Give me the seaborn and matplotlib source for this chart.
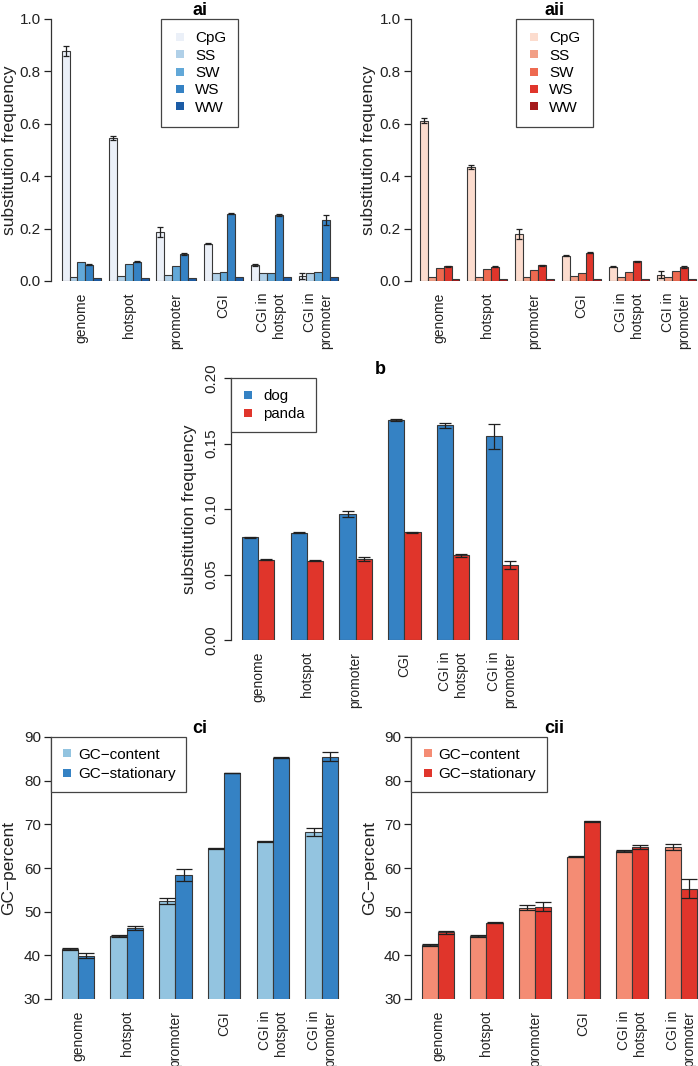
import pandas as pd
import matplotlib
matplotlib.use('Agg')
import matplotlib.pyplot as plt
from matplotlib.lines import Line2D
import seaborn as sns

regions = ['genome', 'hotspot', 'promoter', 'CGI', 'CGI in\nhotspot', 'CGI in\npromoter']
sub_types = ['CpG', 'SS', 'SW', 'WS', 'WW']
species = ['dog', 'panda']
gc_kinds = ['GC\u2212content', 'GC\u2212stationary']

# ai - dog substitution frequency
ai_cpg = [0.878, 0.546, 0.186, 0.143, 0.061, 0.020]
ai_ss = [0.016, 0.018, 0.022, 0.032, 0.031, 0.029]
ai_sw = [0.071, 0.064, 0.057, 0.033, 0.031, 0.034]
ai_ws = [0.062, 0.074, 0.103, 0.256, 0.252, 0.233]
ai_ww = [0.011, 0.011, 0.013, 0.014, 0.014, 0.014]
ai_cpg_err = [0.020, 0.008, 0.019, 0.001, 0.002, 0.011]
ai_ws_err = [0.001, 0.001, 0.003, 0.002, 0.002, 0.018]

# aii - panda substitution frequency
aii_cpg = [0.612, 0.436, 0.178, 0.097, 0.055, 0.024]
aii_ss = [0.014, 0.014, 0.014, 0.019, 0.015, 0.015]
aii_sw = [0.048, 0.045, 0.043, 0.032, 0.034, 0.040]
aii_ws = [0.056, 0.055, 0.060, 0.108, 0.075, 0.053]
aii_ww = [0.009, 0.009, 0.009, 0.009, 0.009, 0.009]
aii_cpg_err = [0.010, 0.008, 0.019, 0.001, 0.002, 0.013]
aii_ws_err = [0.001, 0.001, 0.002, 0.001, 0.002, 0.005]

# b - overall substitution frequency
dog_freq = [0.0785, 0.0818, 0.0961, 0.1679, 0.1638, 0.1554]
panda_freq = [0.0612, 0.0604, 0.0617, 0.0823, 0.0648, 0.0573]
dog_err = [0.0005, 0.0004, 0.0025, 0.0005, 0.0018, 0.0095]
panda_err = [0.0003, 0.0003, 0.0015, 0.0004, 0.0012, 0.0030]

# ci / cii - GC percent
ci_content = [41.5, 44.4, 52.5, 64.5, 66.1, 68.3]
ci_stationary = [39.9, 46.3, 58.4, 81.8, 85.3, 85.5]
ci_content_err = [0.25, 0.15, 0.7, 0.05, 0.1, 0.9]
ci_stationary_err = [0.6, 0.4, 1.4, 0.05, 0.2, 1.1]
cii_content = [42.3, 44.4, 50.9, 62.6, 63.9, 64.8]
cii_stationary = [45.3, 47.5, 51.1, 70.7, 64.8, 55.3]
cii_content_err = [0.25, 0.15, 0.6, 0.05, 0.15, 0.6]
cii_stationary_err = [0.3, 0.2, 1.0, 0.1, 0.5, 2.1]

blues5 = ['#EBF0F8', '#B0D0E8', '#62A8D8', '#3582C4', '#1B5BA5']
reds5 = ['#FCDCCE', '#F29F86', '#EE6A50', '#E0352B', '#A51A1C']

plt.rcParams['font.family'] = ['Liberation Sans', 'DejaVu Sans']
plt.rcParams['axes.unicode_minus'] = True

W, H = 698, 1066
fig = plt.figure(figsize=(W / 100, H / 100), dpi=100)


def draw_panel(rect_px, bars_px, series, errs, names, colors, title,
               ylim, yticks, yfmt, ylabel, legend_loc, capsize,
               rot_yticks=False, legend_kw=None):
    x0, x1, ytop, ybot = rect_px
    ax = fig.add_axes([x0 / W, 1 - ybot / H, (x1 - x0) / W, (ybot - ytop) / H])
    rows = []
    for name, vals in zip(names, series):
        for reg, v in zip(regions, vals):
            rows.append({'region': reg, 'kind': name, 'value': v})
    df = pd.DataFrame(rows)
    n = len(names)
    w = n / (n + 1)
    sns.barplot(data=df, x='region', y='value', hue='kind', order=regions,
                hue_order=names, palette=colors, width=w, saturation=1,
                edgecolor='#383838', linewidth=0.8, errorbar=None,
                legend=False, ax=ax)
    # error bars on top of the bars
    for cont, err in zip(ax.containers, errs):
        if err is None:
            continue
        xs = [b.get_x() + b.get_width() / 2 for b in cont]
        ys = [b.get_height() for b in cont]
        ax.errorbar(xs, ys, yerr=err, fmt='none', ecolor='#202020',
                    elinewidth=0.9, capsize=capsize, capthick=0.9, zorder=5)
    # x range so the bars land where they sit in the reference
    bl, br = bars_px
    scale = (5 + w) / (br - bl)
    ax.set_xlim(-w / 2 - (bl - x0) * scale, 5 + w / 2 + (x1 - br) * scale)
    ax.set_ylim(*ylim)
    ax.set_yticks(yticks)
    ax.set_yticklabels([yfmt.format(t) for t in yticks])
    ax.set_xticks(range(len(regions)))
    ax.set_xticklabels(regions, rotation=90, va='top', ha='center',
                       multialignment='right', fontsize=10)
    ax.tick_params(axis='x', length=0, pad=8.5, colors='#222222')
    ax.tick_params(axis='y', length=5, width=0.9, direction='out',
                   labelsize=11, colors='#222222', pad=2)
    if rot_yticks:
        ax.tick_params(axis='y', pad=4)
        for lab in ax.get_yticklabels():
            lab.set_rotation(90)
            lab.set_va('center')
    for s in ['top', 'right', 'bottom']:
        ax.spines[s].set_visible(False)
    ax.spines['left'].set_bounds(yticks[0], yticks[-1])
    ax.spines['left'].set_color('#333333')
    ax.spines['left'].set_linewidth(0.9)
    ax.set_xlabel('')
    ax.set_ylabel(ylabel, fontsize=12.5, color='#222222')
    ax.yaxis.set_label_coords(-34 / (x1 - x0), 0.5)
    ax.set_title(title, fontsize=13, fontweight='bold', pad=3)
    handles = [Line2D([], [], marker='s', ls='none', color=c, markersize=6,
                      markeredgewidth=0) for c in colors]
    kw = dict(loc=legend_loc, fontsize=11, frameon=True, fancybox=False,
              framealpha=1, edgecolor='#444444', borderaxespad=0,
              handlelength=0.8, handletextpad=0.6, labelspacing=0.22,
              borderpad=0.8)
    if legend_kw:
        kw.update(legend_kw)
    leg = ax.legend(handles, names, **kw)
    leg.get_frame().set_linewidth(0.9)
    return ax


draw_panel((50.6, 349, 19, 281), (61.7, 338),
           [ai_cpg, ai_ss, ai_sw, ai_ws, ai_ww],
           [ai_cpg_err, None, None, ai_ws_err, None],
           sub_types, blues5, 'ai', (0, 1), [0, 0.2, 0.4, 0.6, 0.8, 1.0],
           '{:.1f}', 'substitution frequency', 'upper center', 2.5)

draw_panel((410.5, 698, 19, 281), (420, 696),
           [aii_cpg, aii_ss, aii_sw, aii_ws, aii_ww],
           [aii_cpg_err, None, None, aii_ws_err, None],
           sub_types, reds5, 'aii', (0, 1), [0, 0.2, 0.4, 0.6, 0.8, 1.0],
           '{:.1f}', 'substitution frequency', 'upper center', 2.5)

draw_panel((231, 529, 378, 640), (242, 518),
           [dog_freq, panda_freq], [dog_err, panda_err],
           species, ['#3582C4', '#E0352B'], 'b', (0, 0.2),
           [0, 0.05, 0.10, 0.15, 0.20], '{:.2f}', 'substitution frequency',
           'upper left', 4, rot_yticks=True,
           legend_kw=dict(fontsize=10.8, labelspacing=0.25, borderpad=0.75))

draw_panel((50.6, 349, 737, 999), (61.7, 338),
           [ci_content, ci_stationary], [ci_content_err, ci_stationary_err],
           gc_kinds, ['#93C4E0', '#3582C4'], 'ci', (30, 90),
           [30, 40, 50, 60, 70, 80, 90], '{:d}', 'GC\u2212percent',
           'upper left', 5.5,
           legend_kw=dict(handletextpad=0.3, borderpad=0.7, labelspacing=0.35))

draw_panel((410.7, 698, 737, 999), (421.7, 697),
           [cii_content, cii_stationary], [cii_content_err, cii_stationary_err],
           gc_kinds, ['#F48C74', '#E0352B'], 'cii', (30, 90),
           [30, 40, 50, 60, 70, 80, 90], '{:d}', 'GC\u2212percent',
           'upper left', 5.5,
           legend_kw=dict(handletextpad=0.3, borderpad=0.7, labelspacing=0.35))

fig.savefig('out.png', dpi=100)
